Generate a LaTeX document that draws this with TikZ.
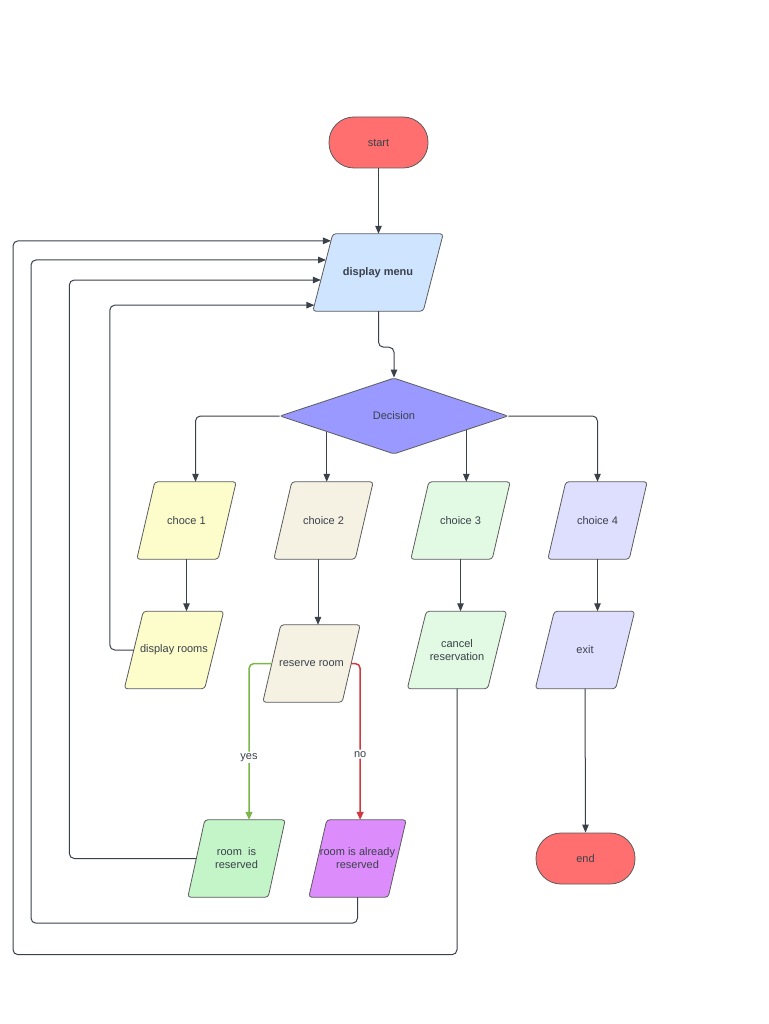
\documentclass[tikz,border=0pt]{standalone}
\usepackage{fontspec}
\setmainfont{Liberation Sans}
\usetikzlibrary{shapes.geometric,arrows.meta,calc}
\pgfdeclarelayer{bg}
\pgfsetlayers{bg,main}
\definecolor{redc}{HTML}{FF6F6F}
\definecolor{dmblue}{HTML}{CFE4FF}
\definecolor{decc}{HTML}{9999FF}
\definecolor{yelc}{HTML}{FDFDCB}
\definecolor{beigec}{HTML}{F5F1E3}
\definecolor{lgreenc}{HTML}{E2FAE3}
\definecolor{lavc}{HTML}{DEDEFF}
\definecolor{greenc}{HTML}{C3F5C8}
\definecolor{purpc}{HTML}{DD8CFB}
\definecolor{yesc}{HTML}{7AB648}
\definecolor{noc}{HTML}{D0393E}
\definecolor{linec}{HTML}{3A414A}
\definecolor{bordc}{HTML}{5B5B5B}
\definecolor{txtc}{HTML}{3A414A}
% #1 name, #2 position, #3 body width, #4 half slant, #5 fill, #6 extra node options, #7 text
\newcommand\pbox[7]{%
  \node[ptext, minimum width=#3, #6] (#1) at #2 {#7};
  \coordinate (#1-tl) at ([xshift=#4]#1.north west);
  \coordinate (#1-tr) at ([xshift=#4]#1.north east);
  \coordinate (#1-bl) at ([xshift=-#4]#1.south west);
  \coordinate (#1-br) at ([xshift=-#4]#1.south east);
  \begin{pgfonlayer}{bg}
    \filldraw[pshape, fill=#5] (#1-tl) -- (#1-tr) -- (#1-br) -- (#1-bl) -- cycle;
  \end{pgfonlayer}}
\begin{document}
\begin{tikzpicture}[x=1pt,y=-1pt,
  base/.style={draw=bordc, line width=0.8pt, text=txtc, font=\fontsize{11}{13}\selectfont, align=center, inner sep=0pt},
  term/.style={base, rectangle, rounded corners=25pt, minimum width=99pt, minimum height=51pt},
  ptext/.style={rectangle, text=txtc, font=\fontsize{11}{13}\selectfont, align=center, inner sep=0pt, minimum height=77pt},
  pshape/.style={draw=bordc, line width=0.8pt, rounded corners=3pt},
  dia/.style={base, diamond, minimum width=228pt, minimum height=76pt, rounded corners=2pt},
  arr/.style={draw=linec, line width=1pt, -{Triangle[length=8pt,width=6.5pt]}, rounded corners=5pt},
  yesarr/.style={arr, draw=yesc, line width=1.5pt, -{Triangle[length=8pt,width=7pt,fill=yesc]}},
  noarr/.style={arr, draw=noc, line width=1.5pt, -{Triangle[length=8pt,width=7pt,fill=noc]}},
  lbl/.style={fill=white, text=txtc, font=\fontsize{11}{13}\selectfont, inner sep=1.5pt}
]
\useasboundingbox (0,0) rectangle (768,1024);

\node[term, fill=redc] (start) at (378.5,142.5) {start};
\pbox{dm}{(378,272.5)}{110pt}{10pt}{dmblue}{font=\bfseries\fontsize{11}{13}\selectfont}{display menu}
\node[dia, fill=decc] (dec) at (394,416) {Decision};

\pbox{c1}{(186.5,520.5)}{81pt}{9pt}{yelc}{}{choce 1}
\pbox{c2}{(323.5,520.5)}{81pt}{9pt}{beigec}{}{choice 2}
\pbox{c3}{(460.5,520.5)}{81pt}{9pt}{lgreenc}{}{choice 3}
\pbox{c4}{(597.5,520.5)}{81pt}{9pt}{lavc}{}{choice 4}

\pbox{dr}{(174,650)}{80pt}{9.5pt}{yelc}{}{display rooms}
\pbox{rr}{(311.5,663.5)}{79pt}{9pt}{beigec}{}{reserve room}
\pbox{cr}{(457,650)}{80pt}{9.5pt}{lgreenc}{}{cancel\\reservation}
\pbox{ex}{(585,650)}{80pt}{9.5pt}{lavc}{}{exit}

\pbox{ris}{(236.5,858.5)}{80pt}{8.5pt}{greenc}{}{room~~is\\reserved}
\pbox{rar}{(357.5,858.5)}{79pt}{9pt}{purpc}{}{room is already\\reserved}
\node[term, fill=redc] (en) at (585.5,858.5) {end};

% main flow
\draw[arr] (start.south) -- (start.south |- dm.north);
\draw[arr] (start.south |- dm.south) -- ++(0,36) -| (dec.north);
\draw[arr] (dec.west) -| ($(c1-tl)!0.5!(c1-tr)$);
\draw[arr] (dec.east) -| (c4.north);
\draw[arr] ($(dec.west)!0.412!(dec.south)$) coordinate (d2) -- (d2 |- c2.north);
\draw[arr] ($(dec.south)!0.632!(dec.east)$) coordinate (d3) -- (d3 |- c3.north);

\draw[arr] (c1.south) -- (c1.south |- dr.north);
\path ([xshift=-5.5pt]c2.south) coordinate (c2a);
\draw[arr] (c2a) -- (c2a |- rr.north);
\draw[arr] (c3.south) -- (c3.south |- cr.north);
\draw[arr] (c4.south) -- (c4.south |- ex.north);
\draw[arr] (ex.south) -- (en.north);

% yes / no
\draw[yesarr] (rr.west) -| ($(ris-tl)!0.55!(ris-tr)$) node[lbl, pos=0.8] {yes};
\draw[noarr] (rr.east) -| ($(rar-tl)!0.42!(rar-tr)$) node[lbl, pos=0.79] {no};

% loops back to display menu
\draw[arr] (dr.west) -- ++(-24,0) |- ($(dm-tl)!0.922!(dm-bl)$);
\draw[arr] (ris.west) -- ++(-127,0) |- ($(dm-tl)!0.597!(dm-bl)$);
\draw[arr] (rar.south) -- ++(0,26) -- ($(rar.south)+(-326.5,26)$) |- ($(dm-tl)!0.338!(dm-bl)$);
\draw[arr] (cr.south) -- ++(0,266) -- ($(cr.south)+(-444,266)$) |- ($(dm-tl)!0.091!(dm-bl)$);
\end{tikzpicture}
\end{document}
